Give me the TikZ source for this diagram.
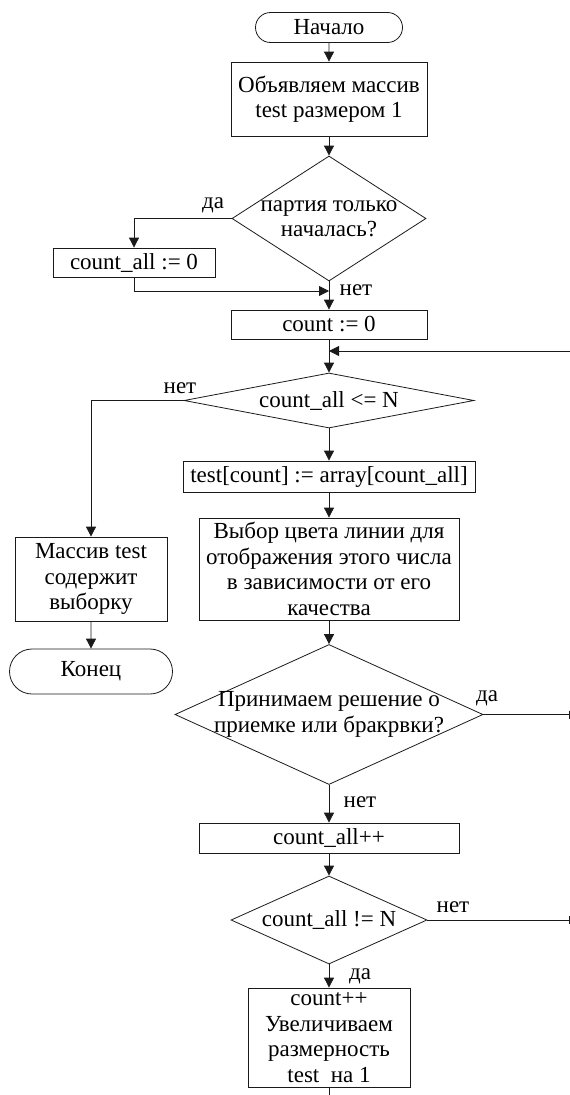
\documentclass[tikz,border=0pt]{standalone}
\usepackage{fontspec}
\setmainfont{Liberation Serif}
\usepackage{tikz}
\usetikzlibrary{arrows.meta,shapes.geometric,shapes.misc}
\definecolor{flowInk}{HTML}{1A1A1A}
\newcommand{\flowfont}{\fontsize{23}{25.5}\selectfont}
\tikzset{
  terminal/.style={
    rounded rectangle,
    draw=flowInk,
    line width=0.8pt,
    font=\flowfont,
    inner sep=0pt
  },
  procbox/.style={
    draw=flowInk,
    line width=0.8pt,
    align=center,
    font=\flowfont,
    inner sep=1pt
  },
  cond/.style={
    diamond,
    draw=flowInk,
    line width=0.8pt,
    inner sep=0pt
  },
  condtext/.style={
    align=center,
    font=\flowfont,
    inner sep=0pt
  },
  branchlbl/.style={
    font=\flowfont,
    inner sep=0pt
  },
  flowline/.style={
    draw=flowInk,
    line width=0.8pt,
    -{Triangle[length=10pt,width=10pt]}
  },
  plainline/.style={
    draw=flowInk,
    line width=0.8pt
  },
  offpage/.style={
    draw=flowInk,
    line width=0.8pt,
    -{Bar[width=8pt]}
  }
}

\begin{document}
\begin{tikzpicture}[x=1pt,y=-1pt]
  \useasboundingbox (0,0) rectangle (570,1095);
  \node[terminal, minimum width=147pt, minimum height=30pt] (start) at (329,27.5) {Начало};
  \node[procbox, minimum width=196pt, minimum height=74pt] (decl) at (329,99) {Объявляем массив\\test размером 1};
  \node[cond, minimum width=194pt, minimum height=125pt, label={[condtext]center:{партия только\\началась?}}] (first) at (329,218.5) {};
  \node[procbox, minimum width=162pt, minimum height=29pt] (zero) at (134,262.5) {count\_all := 0};
  \node[procbox, minimum width=196pt, minimum height=29pt] (init) at (329,324.5) {count := 0};
  \node[cond, minimum width=290pt, minimum height=55pt, label={[condtext]center:{count\_all <= N}}] (limit) at (329,400.5) {};
  \node[procbox, minimum width=292pt, minimum height=31pt] (copy) at (329,476.5) {test[count] := array[count\_all]};
  \node[procbox, minimum width=260pt, minimum height=102pt] (color) at (329,569) {Выбор цвета линии для\\отображения этого числа\\в зависимости от его\\качества};
  \node[procbox, minimum width=152pt, minimum height=84pt] (result) at (91,579) {Массив test\\содержит\\выборку};
  \node[terminal, minimum width=163pt, minimum height=45pt] (finish) at (91,671.5) {Конец};
  \node[cond, minimum width=308pt, minimum height=140pt, label={[condtext]center:{Принимаем решение о\\приемке или бракрвки?}}] (verdict) at (329,714.5) {};
  \node[procbox, minimum width=260pt, minimum height=30pt] (inc) at (329,838) {count\_all++};
  \node[cond, minimum width=196pt, minimum height=88pt, label={[condtext]center:{count\_all != N}}] (last) at (329,920) {};
  \node[procbox, minimum width=162pt, minimum height=99pt] (grow) at (329,1037.5) {count++\\Увеличиваем\\размерность\\test\ \ на 1};
  \node[branchlbl] (yes1) at (213,205) {да};
  \node[branchlbl] (no1) at (356,290) {нет};
  \node[branchlbl] (no2) at (180,388) {нет};
  \node[branchlbl] (yes2) at (487,698) {да};
  \node[branchlbl] (no3) at (360,802) {нет};
  \node[branchlbl] (no4) at (453,907) {нет};
  \node[branchlbl] (yes4) at (360,976) {да};
  \coordinate (join) at (329,291);
  \coordinate (loopin) at (570,351);
  \coordinate (acceptout) at (570,714.5);
  \coordinate (repeatout) at (570,920);
  \coordinate (tailout) at (329,1095);
  \foreach \from/\to in {start/decl,decl/first,first/init,init/limit,limit/copy,copy/color,color/verdict,verdict/inc,inc/last,last/grow,result/finish}{\draw[flowline] (\from) -- (\to);}
  \draw[flowline] (first.west) -| (zero);
  \draw[flowline] (zero) |- (join);
  \draw[flowline] (loopin) -- (loopin -| init);
  \draw[flowline] (limit.west) -| (result);
  \draw[offpage] (verdict.east) -- (acceptout);
  \draw[offpage] (last.east) -- (repeatout);
  \draw[plainline] (grow) -- (tailout);
\end{tikzpicture}
\end{document}
